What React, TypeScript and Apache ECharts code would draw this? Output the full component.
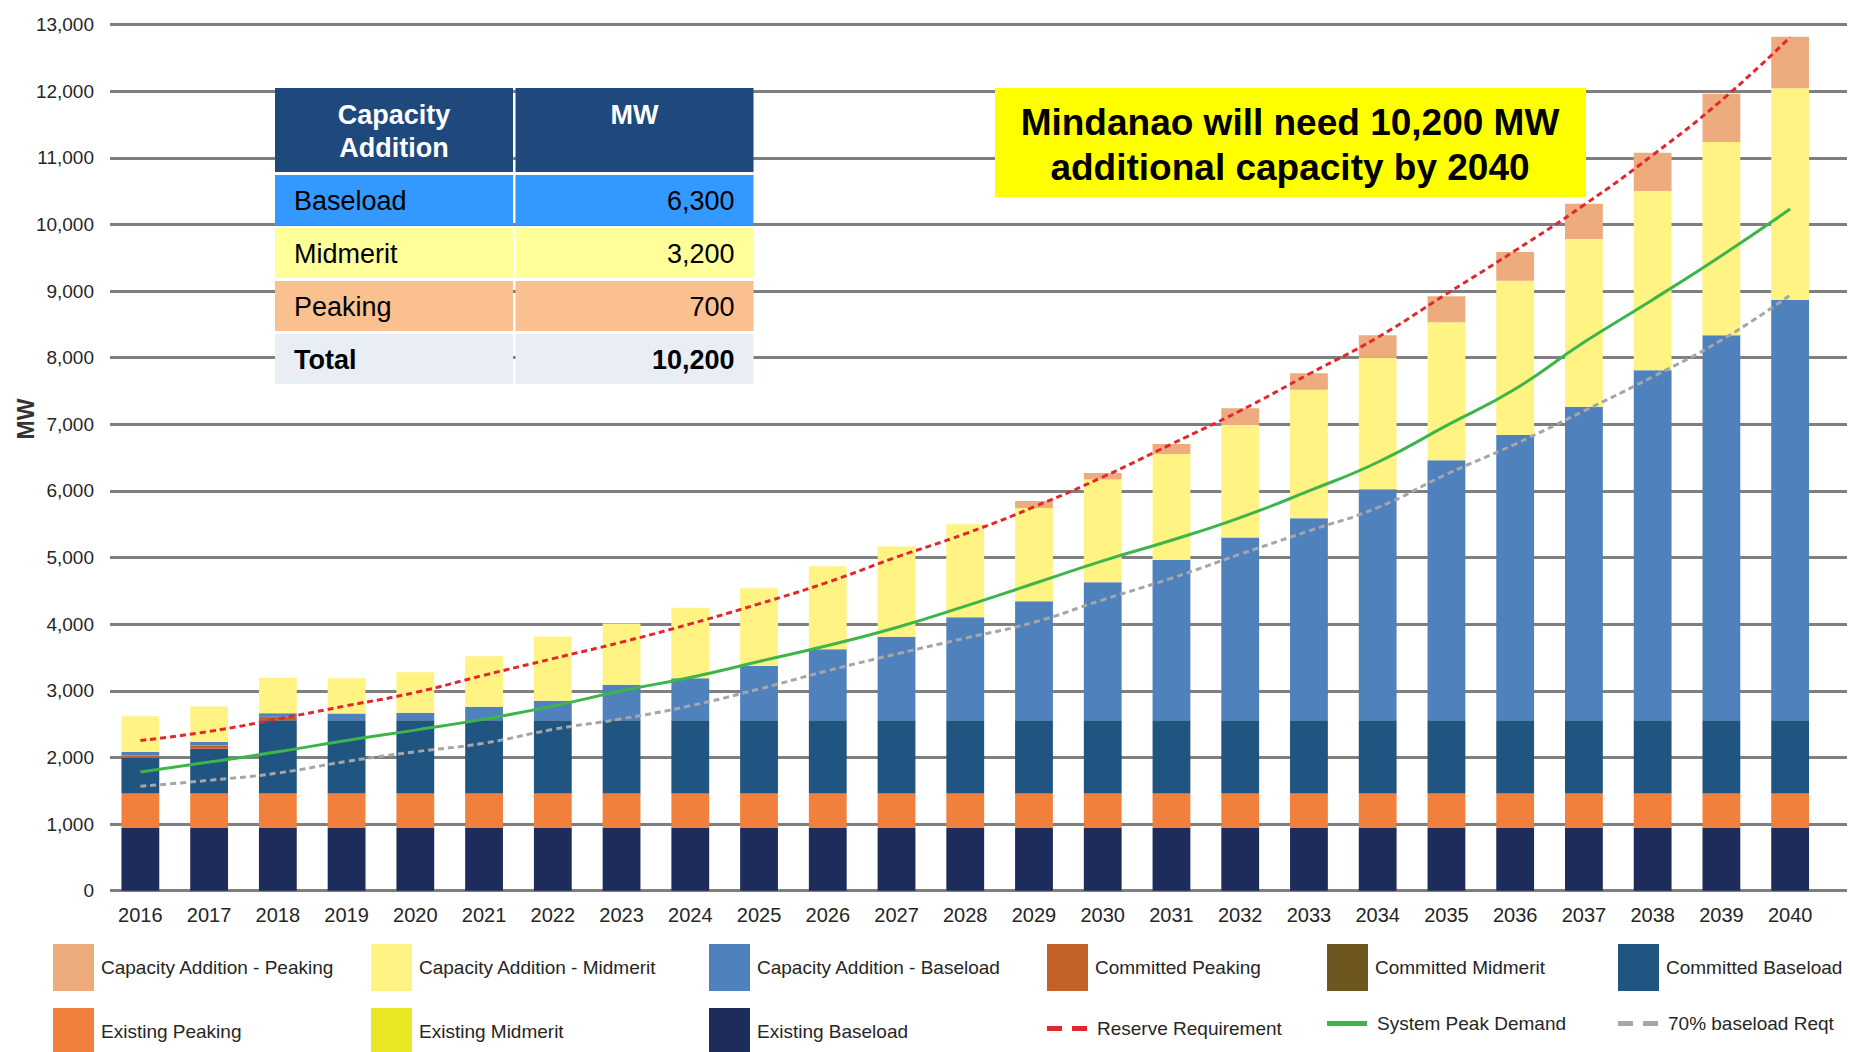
import React, { useEffect, useRef } from "react";
import * as echarts from "echarts";

// ---------------- DATA ----------------
const years = [
  "2016", "2017", "2018", "2019", "2020", "2021", "2022", "2023", "2024",
  "2025", "2026", "2027", "2028", "2029", "2030", "2031", "2032", "2033",
  "2034", "2035", "2036", "2037", "2038", "2039", "2040",
];

const existingBaseload = [940, 940, 940, 940, 940, 940, 940, 940, 940, 940, 940, 940, 940, 940, 940, 940, 940, 940, 940, 940, 940, 940, 940, 940, 940];
const existingPeaking = [520, 520, 520, 520, 520, 520, 520, 520, 520, 520, 520, 520, 520, 520, 520, 520, 520, 520, 520, 520, 520, 520, 520, 520, 520];
const existingMidmerit = [0, 0, 0, 0, 0, 0, 0, 0, 0, 0, 0, 0, 0, 0, 0, 0, 0, 0, 0, 0, 0, 0, 0, 0, 0];
const committedBaseload = [530, 670, 1100, 1100, 1100, 1100, 1100, 1100, 1100, 1100, 1100, 1100, 1100, 1100, 1100, 1100, 1100, 1100, 1100, 1100, 1100, 1100, 1100, 1100, 1100];
const committedMidmerit = [0, 0, 0, 0, 0, 0, 0, 0, 0, 0, 0, 0, 0, 0, 0, 0, 0, 0, 0, 0, 0, 0, 0, 0, 0];
const committedPeaking = [40, 50, 50, 0, 0, 0, 0, 0, 0, 0, 0, 0, 0, 0, 0, 0, 0, 0, 0, 0, 0, 0, 0, 0, 0];
const additionBaseload = [50, 55, 55, 100, 110, 200, 290, 530, 630, 815, 1065, 1250, 1545, 1785, 2070, 2405, 2740, 3030, 3465, 3900, 4280, 4705, 5250, 5775, 6310];
const additionMidmerit = [540, 530, 530, 530, 610, 760, 965, 920, 1055, 1165, 1245, 1355, 1395, 1400, 1540, 1590, 1690, 1930, 1975, 2070, 2315, 2515, 2690, 2900, 3175];
const additionPeaking = [0, 0, 0, 0, 0, 0, 0, 0, 0, 0, 0, 0, 0, 105, 100, 150, 250, 245, 335, 390, 430, 530, 575, 725, 770];

const reserveRequirement = [2254, 2390, 2577, 2776, 2975, 3234, 3483, 3730, 4004, 4305, 4630, 5006, 5357, 5760, 6209, 6703, 7203, 7754, 8305, 8956, 9607, 10290, 11040, 11860, 12810];
const systemPeakDemand = [1781, 1930, 2085, 2255, 2410, 2575, 2770, 3000, 3200, 3440, 3680, 3950, 4270, 4610, 4950, 5260, 5600, 6000, 6430, 6980, 7530, 8230, 8870, 9530, 10230];
const baseloadReqt70 = [1567, 1657, 1766, 1940, 2085, 2214, 2420, 2580, 2776, 3027, 3302, 3553, 3790, 4029, 4365, 4690, 5050, 5400, 5750, 6250, 6703, 7200, 7712, 8263, 8938];

const yMin = 0;
const yMax = 13000;
const yInterval = 1000;

const tableHeader = ["Capacity", "Addition", "MW"];
const tableLabels = ["Baseload", "Midmerit", "Peaking", "Total"];
const tableValues = ["6,300", "3,200", "700", "10,200"];
const calloutLines = ["Mindanao will need 10,200 MW", "additional capacity by 2040"];
const yAxisTitle = "MW";

// ---------------- STYLE ----------------
const ARIAL = '"Liberation Sans", Arial, sans-serif';
const TXT = "#262626";

const C = {
  addPeak: "#EEAB7E",
  addMid: "#FFF383",
  addBase: "#4F81BD",
  comPeak: "#C4612A",
  comMid: "#6E5620",
  comBase: "#1F5580",
  exPeak: "#F0803C",
  exMid: "#E9E623",
  exBase: "#1E2C5B",
  reserve: "#E2282E",
  peak: "#3DB54A",
  gray: "#A6A6A6",
};

const DASH_ICON = "path://M0 0H15V5H0ZM25 0H40V5H25Z";
const SOLID_ICON = "path://M0 0H40V5H0Z";

export default function App() {
  const ref = useRef<HTMLDivElement>(null);

  useEffect(() => {
    if (!ref.current) return;
    const chart = echarts.init(ref.current, null, { renderer: "svg" });

    const barSeries = [
      { name: "Existing Baseload", data: existingBaseload, color: C.exBase },
      { name: "Existing Peaking", data: existingPeaking, color: C.exPeak },
      { name: "Existing Midmerit", data: existingMidmerit, color: C.exMid },
      { name: "Committed Baseload", data: committedBaseload, color: C.comBase },
      { name: "Committed Midmerit", data: committedMidmerit, color: C.comMid },
      { name: "Committed Peaking", data: committedPeaking, color: C.comPeak },
      { name: "Capacity Addition - Baseload", data: additionBaseload, color: C.addBase },
      { name: "Capacity Addition - Midmerit", data: additionMidmerit, color: C.addMid },
      { name: "Capacity Addition - Peaking", data: additionPeaking, color: C.addPeak },
    ].map((s) => ({
      type: "bar",
      name: s.name,
      stack: "cap",
      data: s.data,
      barWidth: "55%",
      xAxisIndex: 0,
      yAxisIndex: 0,
      itemStyle: { color: s.color },
      emphasis: { disabled: true },
      z: 2,
    }));

    const lineSeries = [
      { name: "Reserve Requirement", data: reserveRequirement, color: C.reserve, type: [6, 4] as any },
      { name: "System Peak Demand", data: systemPeakDemand, color: C.peak, type: "solid" as any },
      { name: "70% baseload Reqt", data: baseloadReqt70, color: C.gray, type: [6, 4] as any },
    ].map((s) => ({
      type: "line",
      name: s.name,
      data: s.data,
      smooth: true,
      symbol: "none",
      xAxisIndex: 0,
      yAxisIndex: 0,
      lineStyle: { color: s.color, width: 3, type: s.type },
      itemStyle: { color: s.color },
      emphasis: { disabled: true },
      z: 5,
    }));

    // [name, left, top, isLine, dashed]
    const legendPos: [string, number, number, boolean, boolean][] = [
      ["Capacity Addition - Peaking", 53, 944, false, false],
      ["Capacity Addition - Midmerit", 371, 944, false, false],
      ["Capacity Addition - Baseload", 709, 944, false, false],
      ["Committed Peaking", 1047, 944, false, false],
      ["Committed Midmerit", 1327, 944, false, false],
      ["Committed Baseload", 1618, 944, false, false],
      ["Existing Peaking", 53, 1008, false, false],
      ["Existing Midmerit", 371, 1008, false, false],
      ["Existing Baseload", 709, 1008, false, false],
      ["Reserve Requirement", 1047, 1019, true, true],
      ["System Peak Demand", 1327, 1014, true, false],
      ["70% baseload Reqt", 1618, 1014, true, true],
    ];

    const legends = legendPos.map(([name, left, top, isLine, dashed]) => ({
      show: true,
      data: [name],
      left,
      top,
      padding: 0,
      itemGap: 0,
      itemWidth: isLine ? 40 : 41,
      itemHeight: isLine ? 5 : 47,
      icon: isLine ? (dashed ? DASH_ICON : SOLID_ICON) : "rect",
      selectedMode: false,
      textStyle: {
        fontFamily: ARIAL,
        fontSize: 19,
        color: TXT,
        padding: [0, 0, 0, isLine ? 5 : 2],
      },
    }));

    const graphic: any[] = [];
    // Y-axis title
    graphic.push({
      type: "text",
      x: 26,
      y: 419,
      rotation: Math.PI / 2,
      style: {
        text: yAxisTitle,
        fontFamily: ARIAL,
        fontWeight: "bold",
        fontSize: 23,
        fill: "#333",
        align: "center",
        verticalAlign: "middle",
        textAlign: "center",
        textVerticalAlign: "middle",
      },
      z: 10,
    });

    // Table
    const col1X = 275, col1W = 238, col2X = 515.5, col2W = 238;
    const headY = 88, headH = 84;
    const rowColors = ["#3399FF", "#FFFF99", "#FAC090", "#E9EDF4"];
    graphic.push({ type: "rect", shape: { x: col1X, y: headY, width: col1W, height: headH }, style: { fill: "#1F497D" }, z: 10 });
    graphic.push({ type: "rect", shape: { x: col2X, y: headY, width: col2W, height: headH }, style: { fill: "#1F497D" }, z: 10 });
    const hText = (text: string, x: number, y: number) => ({
      type: "text",
      x,
      y,
      style: {
        text,
        fontFamily: ARIAL,
        fontWeight: "bold",
        fontSize: 27,
        fill: "#FFFFFF",
        align: "center",
        verticalAlign: "middle",
        textAlign: "center",
        textVerticalAlign: "middle",
      },
      z: 11,
    });
    graphic.push(hText(tableHeader[0], col1X + col1W / 2, 115));
    graphic.push(hText(tableHeader[1], col1X + col1W / 2, 148));
    graphic.push(hText(tableHeader[2], col2X + col2W / 2, 115));

    tableLabels.forEach((lab, i) => {
      const y = 175 + i * 53;
      const h = 50;
      const bold = i === tableLabels.length - 1;
      graphic.push({ type: "rect", shape: { x: col1X, y, width: col1W, height: h }, style: { fill: rowColors[i] }, z: 10 });
      graphic.push({ type: "rect", shape: { x: col2X, y, width: col2W, height: h }, style: { fill: rowColors[i] }, z: 10 });
      graphic.push({
        type: "text",
        x: col1X + 19,
        y: y + h / 2 + 1,
        style: {
          text: lab,
          fontFamily: ARIAL,
          fontWeight: bold ? "bold" : "normal",
          fontSize: 27,
          fill: "#000",
          align: "left",
          verticalAlign: "middle",
          textAlign: "left",
          textVerticalAlign: "middle",
        },
        z: 11,
      });
      graphic.push({
        type: "text",
        x: col2X + col2W - 19,
        y: y + h / 2 + 1,
        style: {
          text: tableValues[i],
          fontFamily: ARIAL,
          fontWeight: bold ? "bold" : "normal",
          fontSize: 27,
          fill: "#000",
          align: "right",
          verticalAlign: "middle",
          textAlign: "right",
          textVerticalAlign: "middle",
        },
        z: 11,
      });
    });

    // Callout box
    graphic.push({ type: "rect", shape: { x: 995, y: 88, width: 591, height: 109 }, style: { fill: "#FFFF00" }, z: 10 });
    calloutLines.forEach((t, i) => {
      graphic.push({
        type: "text",
        x: 1290,
        y: 122 + i * 45,
        style: {
          text: t,
          fontFamily: ARIAL,
          fontWeight: "bold",
          fontSize: 37,
          fill: "#000",
          align: "center",
          verticalAlign: "middle",
          textAlign: "center",
          textVerticalAlign: "middle",
        },
        z: 11,
      });
    });

    const option: any = {
      animation: false,
      backgroundColor: "#FFFFFF",
      tooltip: { show: false },
      grid: [
        { left: 106, right: 25.5, top: 24.5, bottom: 161.3, outerBoundsMode: "none", containLabel: false },
        { left: 110, right: 3, top: 24.5, bottom: 161.3, outerBoundsMode: "none", containLabel: false },
      ],
      xAxis: [
        {
          type: "category",
          gridIndex: 0,
          data: years,
          axisLine: { show: false },
          axisTick: { show: false },
          axisLabel: {
            fontFamily: ARIAL,
            fontSize: 20,
            color: TXT,
            margin: 14,
            interval: 0,
          },
          splitLine: { show: false },
        },
        {
          type: "value",
          gridIndex: 1,
          min: 0,
          max: 1,
          show: false,
        },
      ],
      yAxis: [
        {
          type: "value",
          gridIndex: 0,
          min: yMin,
          max: yMax,
          interval: yInterval,
          axisLine: { show: false },
          axisTick: { show: false },
          splitLine: { show: false },
          axisLabel: {
            fontFamily: ARIAL,
            fontSize: 19,
            color: TXT,
            margin: 12,
            formatter: (v: number) => v.toLocaleString("en-US"),
          },
        },
        {
          type: "value",
          gridIndex: 1,
          min: yMin,
          max: yMax,
          interval: yInterval,
          axisLine: { show: false },
          axisTick: { show: false },
          axisLabel: { show: false },
          splitLine: { show: true, lineStyle: { color: "#7F7F7F", width: 3 } },
          z: 0,
        },
      ],
      legend: legends,
      series: [...barSeries, ...lineSeries],
      graphic,
    };

    chart.setOption(option);
    return () => {
      chart.dispose();
    };
  }, []);

  return (
    <div
      ref={ref}
      style={{ position: "absolute", left: 0, top: 0, width: 1850, height: 1052 }}
    />
  );
}
